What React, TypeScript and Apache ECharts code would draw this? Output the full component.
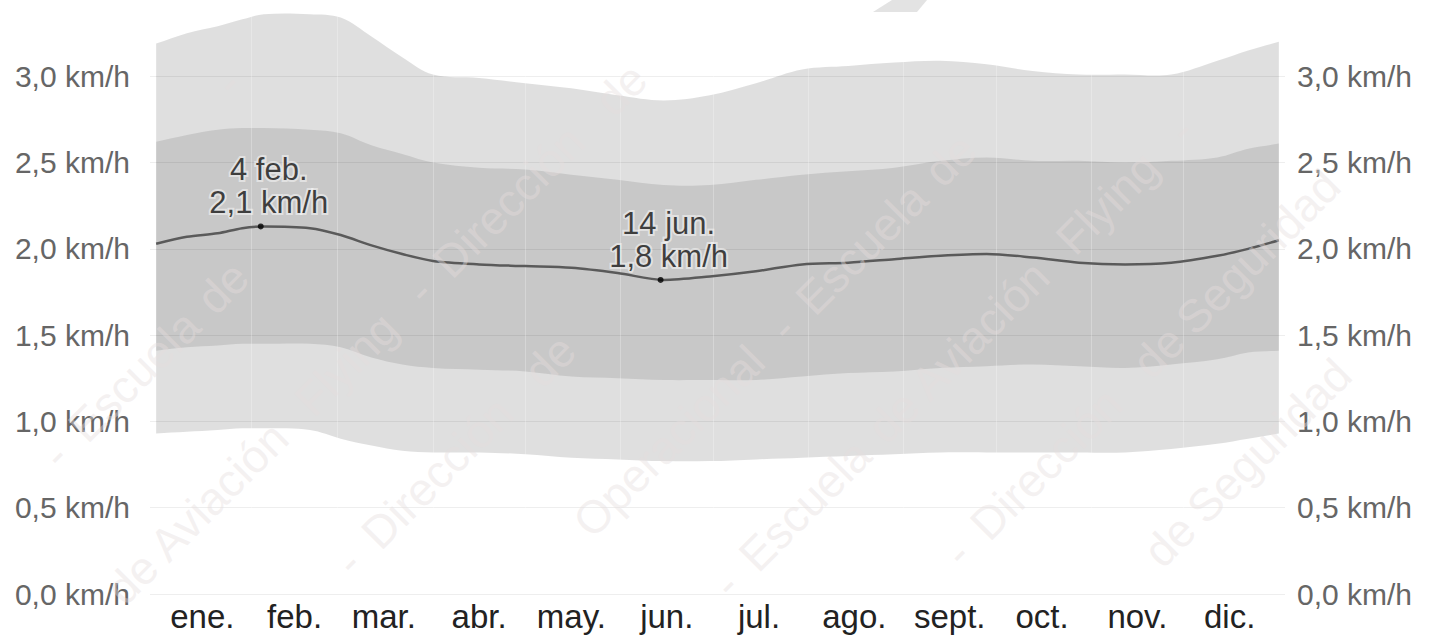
import React, { useEffect, useRef } from 'react';
import * as echarts from 'echarts';

const FONT = '"Liberation Sans", Arial, Helvetica, sans-serif';

const monthLabels = ['ene.', 'feb.', 'mar.', 'abr.', 'may.', 'jun.', 'jul.', 'ago.', 'sept.', 'oct.', 'nov.', 'dic.'];
const monthMidDays = [15, 45, 74, 105, 135, 166, 196, 227, 258, 288, 319, 349];
const monthStartDays = [31, 59, 90, 120, 151, 181, 212, 243, 273, 304, 334];
const yTicks = [0, 0.5, 1, 1.5, 2, 2.5, 3];

// day of year (0 = 1 jan)
const days = [0, 10, 20, 28, 35, 50, 60, 70, 80, 90, 105, 120, 135, 150, 165, 180, 195, 210, 225, 240, 255, 270, 285, 300, 315, 330, 345, 355, 365];
// 90th percentile
const p90 = [3.19, 3.25, 3.29, 3.33, 3.36, 3.36, 3.34, 3.23, 3.11, 3.01, 2.99, 2.96, 2.93, 2.89, 2.86, 2.89, 2.96, 3.04, 3.06, 3.08, 3.09, 3.07, 3.03, 3.01, 3.01, 3.01, 3.09, 3.15, 3.20];
// 75th percentile
const p75 = [2.62, 2.66, 2.69, 2.70, 2.70, 2.69, 2.67, 2.60, 2.55, 2.50, 2.47, 2.46, 2.43, 2.40, 2.37, 2.37, 2.40, 2.43, 2.45, 2.47, 2.51, 2.53, 2.51, 2.51, 2.50, 2.51, 2.53, 2.58, 2.61];
// 25th percentile
const p25 = [1.41, 1.43, 1.44, 1.45, 1.45, 1.45, 1.43, 1.37, 1.33, 1.31, 1.30, 1.29, 1.26, 1.25, 1.24, 1.24, 1.24, 1.26, 1.28, 1.29, 1.31, 1.32, 1.33, 1.32, 1.31, 1.33, 1.36, 1.40, 1.41];
// 10th percentile
const p10 = [0.93, 0.94, 0.95, 0.96, 0.96, 0.95, 0.90, 0.86, 0.83, 0.82, 0.82, 0.81, 0.79, 0.78, 0.77, 0.77, 0.78, 0.79, 0.80, 0.81, 0.82, 0.82, 0.82, 0.82, 0.82, 0.84, 0.87, 0.90, 0.93];
// mean wind speed
const meanVals = [2.03, 2.07, 2.09, 2.12, 2.13, 2.12, 2.08, 2.02, 1.97, 1.93, 1.91, 1.90, 1.89, 1.86, 1.82, 1.84, 1.87, 1.91, 1.92, 1.94, 1.96, 1.97, 1.95, 1.92, 1.91, 1.92, 1.96, 2.00, 2.05];

const extremeDays = [34, 164];
const extremeVals = [2.13, 1.82];
const extremeLabels = ['4 feb.\n2,1 km/h', '14 jun.\n1,8 km/h'];

const watermarkWords = ['Escuela', 'de', 'Aviación', 'Flying', '-', 'Dirección', 'de', 'Seguridad', 'Operacional', '-'];

function fmtKmh(v: number) {
  return v.toFixed(1).replace('.', ',') + ' km/h';
}

function bandSeries(upper: number[], lower: number[], fill: string) {
  return {
    type: 'custom',
    coordinateSystem: 'cartesian2d',
    silent: true,
    z: 1,
    data: [[days[0], lower[0]]],
    encode: { x: 0, y: 1 },
    renderItem: (_params: any, api: any) => {
      const top = days.map((d, i) => api.coord([d, upper[i]]));
      const bottom = days.map((d, i) => api.coord([d, lower[i]])).reverse();
      const pts = [
        top[0], ...top, top[top.length - 1],
        bottom[0], ...bottom, bottom[bottom.length - 1],
      ];
      return {
        type: 'polygon',
        shape: { points: pts, smooth: 0.35 },
        style: { fill },
      };
    },
  };
}

// Faint diagonal watermark, laid out word by word, each word kept inside the page
function buildWatermark() {
  const els: any[] = [];
  const fs = 46;
  const r2 = Math.SQRT1_2;
  const rect = { x0: 4, y0: 4, x1: 1431, y1: 631 };
  const avoid = [
    [190, 145, 350, 225],
    [595, 196, 752, 282],
  ];
  const pad = fs * 0.42;
  for (let k = 0; k < 12; k++) {
    const s = 110 + k * 200;
    // start far below-left of the page so each diagonal runs across it
    const ys = 900;
    const xs = s - ys;
    let t = (k * 157) % 260;
    let wi = (k * 3) % watermarkWords.length;
    for (let guard = 0; guard < 200; guard++) {
      const word = watermarkWords[wi % watermarkWords.length];
      wi++;
      const w = word.length * fs * 0.52;
      const ax = xs + t * r2;
      const ay = ys - t * r2;
      const bx = ax + w * r2;
      const by = ay - w * r2;
      t += w + fs * 0.3;
      if (by < -100 || ax > 1600) break;
      const inside =
        ax - pad >= rect.x0 && bx + pad <= rect.x1 && by - pad >= rect.y0 && ay + pad <= rect.y1;
      if (!inside) continue;
      let hit = false;
      for (const b of avoid) {
        for (let q = 0; q <= 1.0001 && !hit; q += 0.1) {
          const px = ax + (bx - ax) * q;
          const py = ay + (by - ay) * q;
          if (px > b[0] - pad && px < b[2] + pad && py > b[1] - pad && py < b[3] + pad) hit = true;
        }
        if (hit) break;
      }
      if (hit) continue;
      els.push({
        type: 'text',
        x: ax,
        y: ay,
        rotation: Math.PI / 4,
        silent: true,
        z: 100,
        style: {
          text: word,
          fill: 'rgba(230,222,222,0.42)',
          fontSize: fs,
          fontFamily: FONT,
          verticalAlign: 'middle',
        },
      });
    }
  }
  els.push({
    type: 'polygon',
    silent: true,
    z: 101,
    shape: { points: [[892, 0], [927, 0], [917, 12], [873, 12]] },
    style: { fill: '#e3e3e3' },
  });
  return els;
}

export default function App() {
  const ref = useRef<HTMLDivElement>(null);

  useEffect(() => {
    if (!ref.current) return;
    const chart = echarts.init(ref.current, undefined, { renderer: 'svg' });

    const yAxisCommon = {
      type: 'value',
      min: 0,
      max: 3.5,
      interval: 0.5,
      axisLine: { show: false },
      axisTick: { show: false },
    };

    const option: any = {
      animation: false,
      backgroundColor: '#ffffff',
      grid: {
        left: 150,
        right: 150,
        top: -10,
        bottom: 41,
        containLabel: false,
        outerBoundsMode: 'none',
      },
      xAxis: {
        type: 'value',
        min: -2,
        max: 367,
        axisLine: { show: false },
        axisTick: { show: false },
        splitLine: { show: false },
        axisLabel: {
          customValues: monthMidDays,
          formatter: (v: number) => {
            const i = monthMidDays.indexOf(Math.round(v));
            return i >= 0 ? monthLabels[i] : '';
          },
          color: '#222',
          fontSize: 33,
          lineHeight: 34,
          margin: 5,
          fontFamily: FONT,
        },
      },
      yAxis: [
        {
          ...yAxisCommon,
          position: 'left',
          splitLine: { show: true, lineStyle: { color: '#eeeeee', width: 1 } },
          axisLabel: {
            customValues: yTicks,
            formatter: (v: number) => (yTicks.indexOf(v) >= 0 ? fmtKmh(v) : ''),
            color: '#666',
            fontSize: 30,
            margin: 20,
            fontFamily: FONT,
          },
        },
        {
          ...yAxisCommon,
          position: 'right',
          splitLine: { show: false },
          axisLabel: {
            customValues: yTicks,
            formatter: (v: number) => (yTicks.indexOf(v) >= 0 ? fmtKmh(v) : ''),
            color: '#666',
            fontSize: 30,
            margin: 12,
            fontFamily: FONT,
          },
        },
      ],
      series: [
        bandSeries(p90, p10, 'rgba(0,0,0,0.125)'),
        bandSeries(p75, p25, 'rgba(0,0,0,0.103)'),
        {
          type: 'line',
          data: days.map((d, i) => [d, meanVals[i]]),
          smooth: 0.3,
          symbol: 'none',
          z: 3,
          lineStyle: { color: '#5a5a5a', width: 2.5 },
          silent: true,
          markLine: {
            silent: true,
            z: 2,
            symbol: ['none', 'none'],
            label: { show: false },
            lineStyle: { color: 'rgba(255,255,255,0.25)', width: 1, type: 'solid' },
            data: monthStartDays.map((d) => ({ xAxis: d })),
          },
        },
        {
          type: 'scatter',
          data: extremeDays.map((d, i) => [d, extremeVals[i]]),
          symbol: 'circle',
          symbolSize: 6,
          z: 5,
          itemStyle: { color: '#000' },
          silent: true,
          label: {
            show: true,
            position: 'top',
            distance: 4,
            offset: [8, 0],
            align: 'center',
            formatter: (p: any) => extremeLabels[p.dataIndex],
            color: '#111',
            fontSize: 31,
            lineHeight: 33,
            fontFamily: FONT,
            textBorderColor: 'rgba(255,255,255,0.6)',
            textBorderWidth: 4,
          },
        },
      ],
      graphic: { elements: buildWatermark() },
    };

    chart.setOption(option);
    return () => {
      chart.dispose();
    };
  }, []);

  return (
    <div
      ref={ref}
      style={{ position: 'fixed', left: 0, top: 0, width: 1435, height: 635, background: '#fff' }}
    />
  );
}
